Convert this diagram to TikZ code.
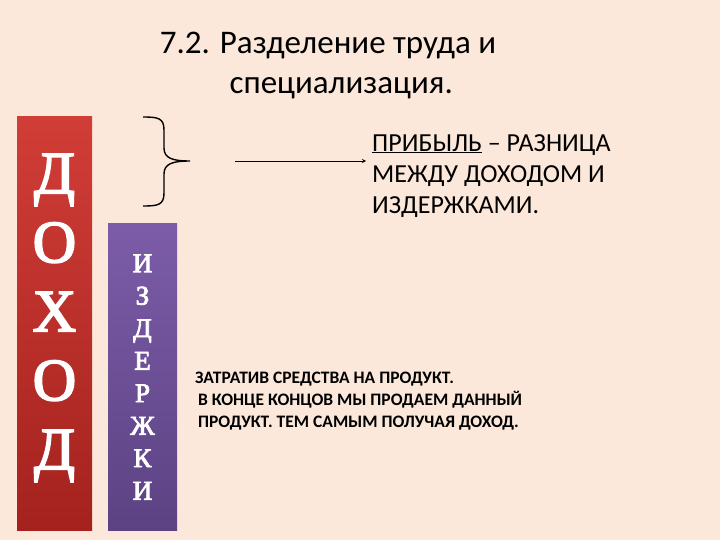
\documentclass[tikz,border=0pt]{standalone}
\usepackage{fontspec}
\setmainfont{Carlito}
\newfontfamily\serifb{Liberation Serif}[FakeBold=3]
\begin{document}
\begin{tikzpicture}[x=1pt,y=-1pt,
  letters/.style={text=white,align=center,inner sep=0pt}]
\definecolor{bg}{HTML}{FCE8DA}
\definecolor{rtop}{HTML}{D13D37}
\definecolor{rbot}{HTML}{A4221E}
\definecolor{ptop}{HTML}{7C5CA8}
\definecolor{pbot}{HTML}{5C4283}
\fill[bg] (0,0) rectangle (720,540);
\useasboundingbox (0,0) rectangle (720,540);
\node[font=\fontsize{33}{40}\selectfont,align=center] (title) at (328,66) {7.2. Разделение труда и\\\hspace*{0.8em}специализация.};
\shade[top color=rtop, bottom color=rbot] (17,117) rectangle (92,530);
\node[letters,font=\serifb\fontsize{60}{69}\selectfont] (dohod) at (54.5,318) {Д\\О\\Х\\О\\Д};
\shade[top color=ptop, bottom color=pbot] (108,224) rectangle (177,530);
\node[letters,font=\serifb\fontsize{27}{32.5}\selectfont] (izd) at (142.5,377) {И\\З\\Д\\Е\\Р\\Ж\\К\\И};
\coordinate (b1) at (143,117);
\coordinate (b2) at (143,206);
\coordinate (bt) at (190,161);
\draw[line width=1.4pt] (b1) .. controls (158,117) and (164,118) .. (164,130) -- (164,148) .. controls (164,158) and (172,161) .. (bt)
  .. controls (172,161) and (164,164) .. (164,174) -- (164,193) .. controls (164,205) and (158,206) .. (b2);
\coordinate (a1) at (235,161);
\node[anchor=north west,align=left,font=\fontsize{26}{31}\selectfont,inner sep=0pt] (prib) at (372,134) {\underline{ПРИБЫЛЬ} – РАЗНИЦА\\МЕЖДУ ДОХОДОМ И\\ИЗДЕРЖКАМИ.};
\draw[-stealth,line width=0.8pt] (a1) -- ([xshift=-6pt]a1 -| prib.west);
\node[anchor=north west,align=left,font=\bfseries\fontsize{17.5}{22}\selectfont,inner sep=0pt] (zat) at (195,372) {ЗАТРАТИВ СРЕДСТВА НА ПРОДУКТ.\\ \,В КОНЦЕ КОНЦОВ МЫ ПРОДАЕМ ДАННЫЙ\\ \,ПРОДУКТ. ТЕМ САМЫМ ПОЛУЧАЯ ДОХОД.};
\end{tikzpicture}
\end{document}
